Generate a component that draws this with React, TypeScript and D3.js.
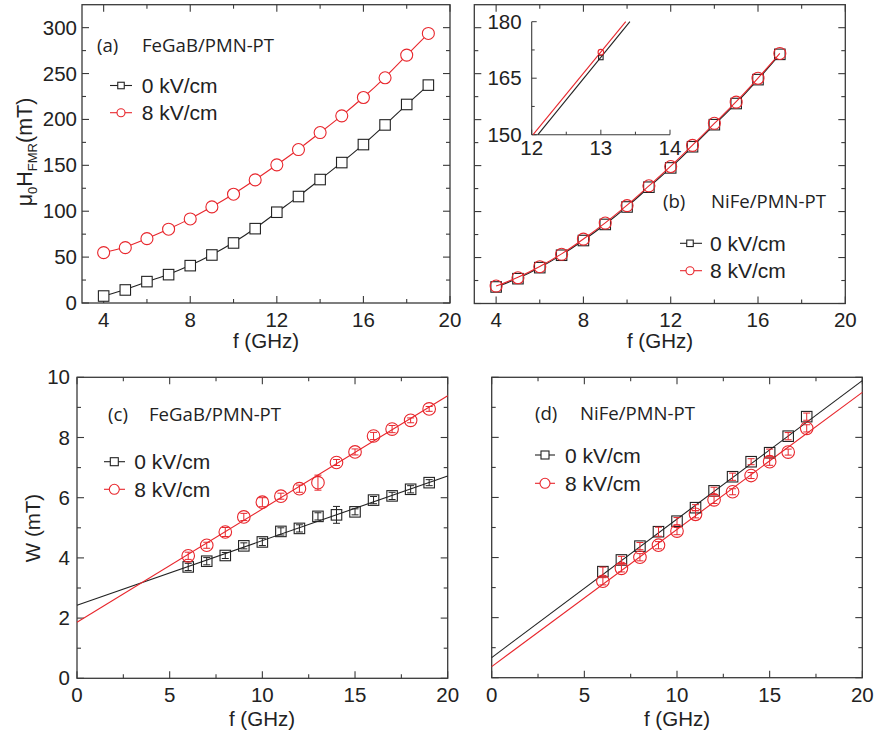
import React from "react";
import * as d3 from "d3";

// ---------- DATA ----------
const freqA = [4, 5, 6, 7, 8, 9, 10, 11, 12, 13, 14, 15, 16, 17, 18, 19];
const hA0 = [7.6, 14.2, 23.3, 30.9, 40.7, 52.3, 65.4, 81.0, 98.9, 116, 134.5, 153, 172.6, 194, 216.3, 237.4];
const hA8 = [54.9, 60.3, 70.1, 80.4, 91.6, 104.7, 118.5, 134.1, 150.5, 167.2, 185.7, 203.9, 223.9, 245.4, 270.1, 293.7];

const freqB = [4, 5, 6, 7, 8, 9, 10, 11, 12, 13, 14, 15, 16, 17];
const hB0 = [18, 27, 39, 52.5, 68.5, 86, 105, 126.5, 147.5, 170.5, 194.5, 217.5, 243.5, 271];
const hB8 = [19, 28, 40, 53.5, 70, 87.5, 106.5, 128, 149, 172, 196, 219, 245, 272];

// inset (b): fit line end points and the point at 13 GHz
const insetLineF0 = [12.09, 13.42];
const insetLineF8 = [12.02, 13.36];
const insetLineH = [150, 180];
const insetFreq = [13];
const insetH0 = [170.5];
const insetH8 = [171.9];

const freqC = [6, 7, 8, 9, 10, 11, 12, 13, 14, 15, 16, 17, 18, 19];
const wC0 = [3.7, 3.89, 4.08, 4.4, 4.53, 4.88, 4.98, 5.38, 5.43, 5.53, 5.92, 6.06, 6.28, 6.5];
const errC0 = [0.12, 0.12, 0.1, 0.1, 0.12, 0.12, 0.12, 0.12, 0.28, 0.1, 0.12, 0.12, 0.12, 0.1];
const wC8 = [4.07, 4.42, 4.86, 5.36, 5.85, 6.05, 6.3, 6.5, 7.17, 7.52, 8.05, 8.28, 8.57, 8.95];
const errC8 = [0.12, 0.1, 0.15, 0.12, 0.15, 0.1, 0.12, 0.25, 0.1, 0.1, 0.12, 0.12, 0.08, 0.08];
const fitRange = [0, 20];
const fitC0 = [2.43, 6.72];
const fitC8 = [1.86, 9.39];

const freqD = [6, 7, 8, 9, 10, 11, 12, 13, 14, 15, 16, 17];
const wD0 = [3.53, 3.92, 4.38, 4.86, 5.21, 5.66, 6.22, 6.69, 7.19, 7.49, 8.04, 8.69];
const errD0 = [0.15, 0.12, 0.12, 0.15, 0.12, 0.1, 0.12, 0.12, 0.1, 0.12, 0.12, 0.12];
const wD8 = [3.21, 3.64, 4.01, 4.41, 4.88, 5.44, 5.92, 6.19, 6.73, 7.19, 7.51, 8.3];
const errD8 = [0.12, 0.12, 0.12, 0.12, 0.12, 0.12, 0.12, 0.1, 0.1, 0.12, 0.1, 0.12];
const fitD0 = [0.67, 9.89];
const fitD8 = [0.37, 9.5];

const ticksA_x = [4, 8, 12, 16, 20];
const minorA_x = [6, 10, 14, 18];
const ticksA_y = [0, 50, 100, 150, 200, 250, 300];
const minorA_y = [25, 75, 125, 175, 225, 275];
const ticksC_x = [0, 5, 10, 15, 20];
const minorC_x = [2.5, 7.5, 12.5, 17.5];
const ticksC_y = [0, 2, 4, 6, 8, 10];
const minorC_y = [1, 3, 5, 7, 9];
const insetTicks_x = [12, 13, 14];
const insetMinor_x = [12.5, 13.5];
const insetTicks_y = [150, 165, 180];
const insetMinor_y = [157.5, 172.5];

const legendLabels = ["0 kV/cm", "8 kV/cm"];

// ---------- STYLE ----------
const RED = "#e8262c";
const BLK = "#222";
const AX = "#3a3a3a";
const NUM_FONT = "'Liberation Sans', Arial, sans-serif";
const LBL_FONT = "'Open Sans', 'DejaVu Sans', sans-serif";

type Sc = d3.ScaleLinear<number, number>;

function Frame({ x, y, xt, xm, yt, ym, xLab, yLab, xLabY, yLabGap }: any) {
  const [x0, x1] = x.range();
  const [y0, y1] = y.range(); // y0 bottom, y1 top
  const M = 7, m = 4;
  return (
    <g>
      <rect x={x0} y={y1} width={x1 - x0} height={y0 - y1} fill="none" stroke={AX} strokeWidth={1.3} />
      {xt.map((t: number) => (
        <g key={"xt" + t}>
          <line x1={x(t)} x2={x(t)} y1={y0} y2={y0 - M} stroke={AX} strokeWidth={1.1} />
          <line x1={x(t)} x2={x(t)} y1={y1} y2={y1 + M} stroke={AX} strokeWidth={1.1} />
        </g>
      ))}
      {xm.map((t: number) => (
        <g key={"xm" + t}>
          <line x1={x(t)} x2={x(t)} y1={y0} y2={y0 - m} stroke={AX} strokeWidth={1.1} />
          <line x1={x(t)} x2={x(t)} y1={y1} y2={y1 + m} stroke={AX} strokeWidth={1.1} />
        </g>
      ))}
      {yt.map((t: number) => (
        <g key={"yt" + t}>
          <line x1={x0} x2={x0 + M} y1={y(t)} y2={y(t)} stroke={AX} strokeWidth={1.1} />
          <line x1={x1} x2={x1 - M} y1={y(t)} y2={y(t)} stroke={AX} strokeWidth={1.1} />
        </g>
      ))}
      {ym.map((t: number) => (
        <g key={"ym" + t}>
          <line x1={x0} x2={x0 + m} y1={y(t)} y2={y(t)} stroke={AX} strokeWidth={1.1} />
          <line x1={x1} x2={x1 - m} y1={y(t)} y2={y(t)} stroke={AX} strokeWidth={1.1} />
        </g>
      ))}
      {xLab &&
        xt.map((t: number) => (
          <text key={"xl" + t} x={x(t)} y={xLabY} textAnchor="middle" fontFamily={NUM_FONT} fontSize={20.5} fill={BLK}>
            {t}
          </text>
        ))}
      {yLab &&
        yt.map((t: number) => (
          <text key={"yl" + t} x={x0 - yLabGap} y={y(t) + 7} textAnchor="end" fontFamily={NUM_FONT} fontSize={20.5} fill={BLK}>
            {t}
          </text>
        ))}
    </g>
  );
}

function Square({ cx, cy, s, color, fill }: any) {
  return <rect x={cx - s / 2} y={cy - s / 2} width={s} height={s} fill={fill} stroke={color} strokeWidth={1.1} />;
}
function Circle({ cx, cy, r, color, fill }: any) {
  return <circle cx={cx} cy={cy} r={r} fill={fill} stroke={color} strokeWidth={1.1} />;
}

function Series({ x, y, fs, vs, color, kind, curve, fill, errs, errColor, r }: any) {
  const line = d3
    .line<number>()
    .x((_, i) => x(fs[i]))
    .y((v) => y(v))
    .curve(d3.curveBasis);
  return (
    <g>
      {curve && <path d={line(vs) || ""} fill="none" stroke={color} strokeWidth={1.1} />}
      {vs.map((v: number, i: number) =>
        kind === "sq" ? (
          <Square key={i} cx={x(fs[i])} cy={y(v)} s={10.5} color={color} fill={fill} />
        ) : (
          <Circle key={i} cx={x(fs[i])} cy={y(v)} r={r || 6} color={color} fill={fill} />
        )
      )}
      {errs &&
        vs.map((v: number, i: number) => {
          const cx = x(fs[i]);
          const ya = y(v - errs[i]);
          const yb = y(v + errs[i]);
          return (
            <g key={"e" + i} stroke={errColor || color} strokeWidth={1}>
              <line x1={cx} x2={cx} y1={ya} y2={yb} />
              <line x1={cx - 3.5} x2={cx + 3.5} y1={ya} y2={ya} />
              <line x1={cx - 3.5} x2={cx + 3.5} y1={yb} y2={yb} />
            </g>
          );
        })}
    </g>
  );
}

function FitLine({ x, y, ends, color }: any) {
  return <line x1={x(fitRange[0])} y1={y(ends[0])} x2={x(fitRange[1])} y2={y(ends[1])} stroke={color} strokeWidth={1.1} />;
}

function Legend({ lx0, lx1, mx, tx, rows, big }: any) {
  return (
    <g>
      {rows.map((ry: number, i: number) => {
        const c = i === 0 ? BLK : RED;
        return (
          <g key={i}>
            <line x1={lx0} x2={lx1} y1={ry} y2={ry} stroke={c} strokeWidth={1.1} />
            {i === 0 ? (
              <Square cx={mx} cy={ry} s={big ? 8 : 6.5} color={c} fill="white" />
            ) : (
              <Circle cx={mx} cy={ry} r={big ? 5 : 4} color={c} fill="white" />
            )}
            <text x={tx} y={ry + 7.5} fontFamily={NUM_FONT} fontSize={21} fill={BLK}>
              {legendLabels[i]}
            </text>
          </g>
        );
      })}
    </g>
  );
}

function PanelTitle({ x1, x2, y, tag, name }: any) {
  return (
    <g fontFamily={LBL_FONT} fontSize={18.6} fill={BLK}>
      <text x={x1} y={y}>{tag}</text>
      <text x={x2} y={y}>{name}</text>
    </g>
  );
}

export default function App() {
  const xA: Sc = d3.scaleLinear().domain([3, 20]).range([82, 450]);
  const yA: Sc = d3.scaleLinear().domain([0, 325]).range([303, 4.7]);
  const xB: Sc = d3.scaleLinear().domain([3, 20]).range([474.3, 845.3]);
  const yB: Sc = d3.scaleLinear().domain([0, 325]).range([303.5, 4.7]);
  const xI: Sc = d3.scaleLinear().domain([12, 14]).range([531.7, 670]);
  const yI: Sc = d3.scaleLinear().domain([150, 180]).range([134.7, 21.7]);
  const xC: Sc = d3.scaleLinear().domain([0, 20]).range([77, 447.7]);
  const yC: Sc = d3.scaleLinear().domain([0, 10]).range([678.3, 377.3]);
  const xD: Sc = d3.scaleLinear().domain([0, 20]).range([491.7, 862.3]);
  const yD: Sc = d3.scaleLinear().domain([0, 10]).range([677.7, 377.3]);

  return (
    <svg width={876} height={734} style={{ display: "block", position: "absolute", left: 0, top: 0 }}>
      <rect width={876} height={734} fill="white" />
      {/* Panel (a) */}
      <Frame x={xA} y={yA} xt={ticksA_x} xm={minorA_x} yt={ticksA_y} ym={minorA_y} xLab yLab xLabY={327} yLabGap={5} />
      <Series x={xA} y={yA} fs={freqA} vs={hA0} color={BLK} kind="sq" curve fill="white" />
      <Series x={xA} y={yA} fs={freqA} vs={hA8} color={RED} kind="ci" curve fill="white" />
      <PanelTitle x1={97} x2={142} y={52} tag="(a)" name="FeGaB/PMN-PT" />
      <Legend lx0={110} lx1={132} mx={121} tx={141.7} rows={[85.5, 112.7]} />
      <text x={266} y={348} textAnchor="middle" fontFamily={NUM_FONT} fontSize={20.5} fill={BLK}>f (GHz)</text>
      <text transform="translate(32,152) rotate(-90)" textAnchor="middle" fontFamily={NUM_FONT} fontSize={21.5} fill={BLK}>
        μ<tspan fontSize={13} dy={5}>0</tspan>
        <tspan dy={-5}>H</tspan>
        <tspan fontSize={13} dy={5}>FMR</tspan>
        <tspan dy={-5}>(mT)</tspan>
      </text>

      {/* Panel (b) */}
      <Frame x={xB} y={yB} xt={ticksA_x} xm={minorA_x} yt={ticksA_y} ym={minorA_y} xLab xLabY={327} />
      <Series x={xB} y={yB} fs={freqB} vs={hB0} color={BLK} kind="sq" curve fill="white" />
      <Series x={xB} y={yB} fs={freqB} vs={hB8} color={RED} kind="ci" curve fill="none" />
      <PanelTitle x1={663} x2={711} y={208} tag="(b)" name="NiFe/PMN-PT" />
      <Legend lx0={680} lx1={702} mx={690} tx={710} rows={[243.3, 270.7]} />
      <text x={660} y={348} textAnchor="middle" fontFamily={NUM_FONT} fontSize={20.5} fill={BLK}>f (GHz)</text>
      {/* inset */}
      <g>
        <line x1={xI(12)} x2={xI(14)} y1={yI(150)} y2={yI(150)} stroke={AX} strokeWidth={1.1} />
        <line x1={xI(12)} x2={xI(12)} y1={yI(150)} y2={yI(180)} stroke={AX} strokeWidth={1.1} />
        {insetTicks_x.map((t) => (
          <line key={"ix" + t} x1={xI(t)} x2={xI(t)} y1={yI(150)} y2={yI(150) - 5} stroke={AX} strokeWidth={1} />
        ))}
        {insetMinor_x.map((t) => (
          <line key={"ixm" + t} x1={xI(t)} x2={xI(t)} y1={yI(150)} y2={yI(150) - 3} stroke={AX} strokeWidth={1} />
        ))}
        {insetTicks_y.map((t) => (
          <line key={"iy" + t} x1={xI(12)} x2={xI(12) + 5} y1={yI(t)} y2={yI(t)} stroke={AX} strokeWidth={1} />
        ))}
        {insetMinor_y.map((t) => (
          <line key={"iym" + t} x1={xI(12)} x2={xI(12) + 3} y1={yI(t)} y2={yI(t)} stroke={AX} strokeWidth={1} />
        ))}
        {insetTicks_x.map((t) => (
          <text key={"ixl" + t} x={xI(t)} y={155} textAnchor="middle" fontFamily={NUM_FONT} fontSize={20.5} fill={BLK}>{t}</text>
        ))}
        {insetTicks_y.map((t) => (
          <text key={"iyl" + t} x={xI(12) - 10} y={yI(t) + 7} textAnchor="end" fontFamily={NUM_FONT} fontSize={20.5} fill={BLK}>{t}</text>
        ))}
        <line x1={xI(insetLineF0[0])} x2={xI(insetLineF0[1])} y1={yI(insetLineH[0])} y2={yI(insetLineH[1])} stroke={BLK} strokeWidth={1.1} />
        <line x1={xI(insetLineF8[0])} x2={xI(insetLineF8[1])} y1={yI(insetLineH[0])} y2={yI(insetLineH[1])} stroke={RED} strokeWidth={1.1} />
        {insetFreq.map((f, i) => (
          <g key={"ip" + i}>
            <Square cx={xI(f)} cy={yI(insetH0[i])} s={4.5} color={BLK} fill="none" />
            <Circle cx={xI(f)} cy={yI(insetH8[i])} r={2.8} color={RED} fill="none" />
          </g>
        ))}
      </g>

      {/* Panel (c) */}
      <Frame x={xC} y={yC} xt={ticksC_x} xm={minorC_x} yt={ticksC_y} ym={minorC_y} xLab yLab xLabY={702} yLabGap={7} />
      <FitLine x={xC} y={yC} ends={fitC0} color={BLK} />
      <FitLine x={xC} y={yC} ends={fitC8} color={RED} />
      <Series x={xC} y={yC} fs={freqC} vs={wC0} color={BLK} kind="sq" fill="none" errs={errC0} />
      <Series x={xC} y={yC} fs={freqC} vs={wC8} color={RED} kind="ci" fill="none" errs={errC8} r={6.3} />
      <PanelTitle x1={108} x2={149} y={420.5} tag="(c)" name="FeGaB/PMN-PT" />
      <Legend lx0={104} lx1={125} mx={114.3} tx={134.3} rows={[461.7, 489.3]} big />
      <text x={262} y={726} textAnchor="middle" fontFamily={NUM_FONT} fontSize={20.5} fill={BLK}>f (GHz)</text>
      <text transform="translate(40,528) rotate(-90)" textAnchor="middle" fontFamily={NUM_FONT} fontSize={20.5} fill={BLK}>W (mT)</text>

      {/* Panel (d) */}
      <Frame x={xD} y={yD} xt={ticksC_x} xm={minorC_x} yt={ticksC_y} ym={minorC_y} xLab xLabY={702} />
      <FitLine x={xD} y={yD} ends={fitD0} color={BLK} />
      <FitLine x={xD} y={yD} ends={fitD8} color={RED} />
      <Series x={xD} y={yD} fs={freqD} vs={wD0} color={BLK} kind="sq" fill="none" errs={errD0} errColor={RED} />
      <Series x={xD} y={yD} fs={freqD} vs={wD8} color={RED} kind="ci" fill="none" errs={errD8} r={6.3} />
      <PanelTitle x1={535} x2={580} y={420} tag="(d)" name="NiFe/PMN-PT" />
      <Legend lx0={535} lx1={555} mx={545} tx={565} rows={[455, 483.3]} big />
      <text x={677} y={726} textAnchor="middle" fontFamily={NUM_FONT} fontSize={20.5} fill={BLK}>f (GHz)</text>
    </svg>
  );
}
